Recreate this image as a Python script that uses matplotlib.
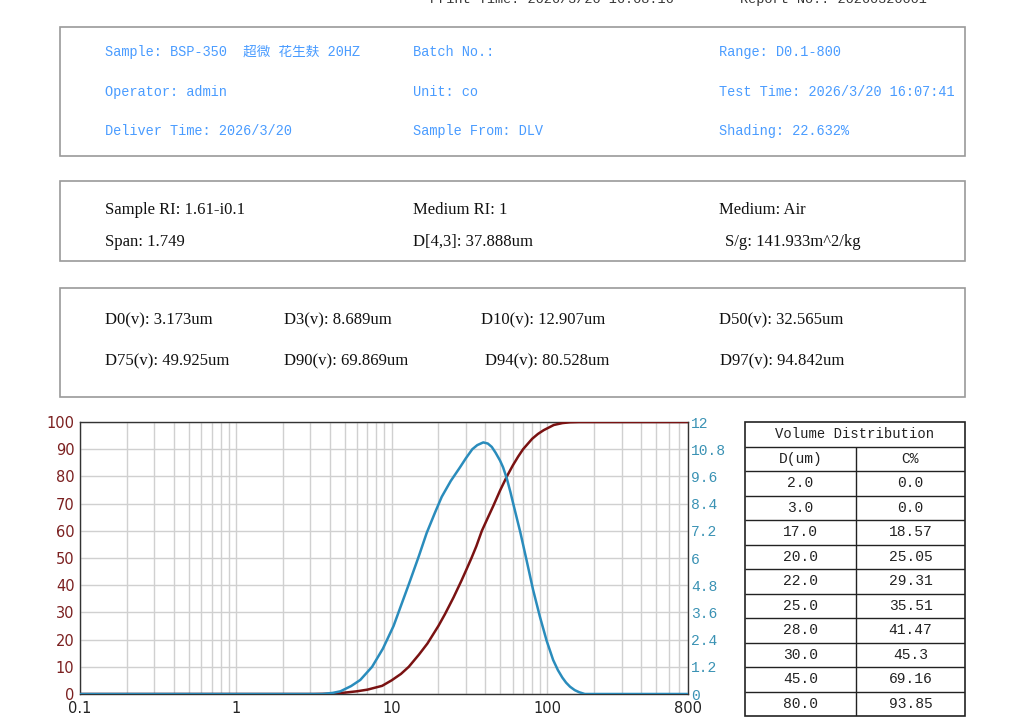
import numpy as np
import matplotlib.pyplot as plt
from matplotlib.patches import Rectangle

MONO = ['Liberation Mono', 'Noto Sans CJK SC', 'DejaVu Sans']
SERIF = ['Liberation Serif', 'DejaVu Serif']

# header lines (cut off at the top of the page)
print_time = 'Print Time: 2026/3/20 16:08:16'
report_no = 'Report No.: 20260320001'

# box 1: sample info (blue)
info_rows = [
    ['Sample: BSP-350  超微 花生麸 20HZ', 'Batch No.:', 'Range: D0.1-800'],
    ['Operator: admin', 'Unit: co', 'Test Time: 2026/3/20 16:07:41'],
    ['Deliver Time: 2026/3/20', 'Sample From: DLV', 'Shading: 22.632%'],
]
# box 2: optical parameters
ri_rows = [
    ['Sample RI: 1.61-i0.1', 'Medium RI: 1', 'Medium: Air'],
    ['Span: 1.749', 'D[4,3]: 37.888um', 'S/g: 141.933m^2/kg'],
]
# box 3: characteristic diameters
d_rows = [
    ['D0(v): 3.173um', 'D3(v): 8.689um', 'D10(v): 12.907um', 'D50(v): 32.565um'],
    ['D75(v): 49.925um', 'D90(v): 69.869um', 'D94(v): 80.528um', 'D97(v): 94.842um'],
]

# cumulative curve (left axis, %)
cum_size = [0.1, 3.17, 4.0, 5.0, 6.0, 7.0, 8.7, 10.0, 11.5, 12.9, 15.0, 17.0, 20.0, 22.0,
            25.0, 28.0, 30.0, 32.6, 35.0, 38.0, 41.5, 45.0, 49.9, 55.0, 60.0, 65.0,
            69.9, 80.0, 87.0, 94.8, 110.0, 125.0, 140.0, 160.0, 800.0]
cum_pct = [0.0, 0.0, 0.1, 0.5, 1.0, 1.6, 3.0, 5.0, 7.4, 10.0, 14.5, 18.57, 25.05, 29.31,
           35.51, 41.47, 45.3, 50.0, 54.3, 60.0, 64.8, 69.16, 75.0, 80.0, 84.0, 87.3,
           90.0, 93.85, 95.6, 97.0, 98.9, 99.6, 99.9, 100.0, 100.0]

# frequency curve (right axis)
dist_size = [0.1, 3.6, 4.2, 4.7, 5.5, 6.3, 7.5, 8.8, 10.3, 11.5, 13.0, 15.0, 16.8, 19.0,
             21.0, 24.0, 27.5, 30.0, 33.0, 35.5, 38.8, 41.5, 44.0, 46.5, 49.7, 52.0,
             55.0, 58.0, 60.4, 64.0, 67.0, 73.6, 81.0, 89.7, 99.0, 109.0, 117.0,
             125.0, 132.0, 140.0, 150.0, 160.0, 174.0, 800.0]
dist_val = [0.0, 0.0, 0.05, 0.12, 0.35, 0.62, 1.2, 2.0, 3.0, 3.9, 4.9, 6.1, 7.1, 8.0,
            8.7, 9.4, 10.0, 10.4, 10.8, 10.98, 11.1, 11.05, 10.9, 10.65, 10.3, 10.0,
            9.5, 8.9, 8.4, 7.7, 7.15, 5.9, 4.6, 3.4, 2.35, 1.5, 1.05,
            0.72, 0.5, 0.32, 0.17, 0.08, 0.0, 0.0]

x_major = [0.1, 1, 10, 100, 800]
x_major_labels = ['0.1', '1', '10', '100', '800']
left_ticks = list(range(0, 101, 10))
right_ticks = [0, 1.2, 2.4, 3.6, 4.8, 6, 7.2, 8.4, 9.6, 10.8, 12]
right_labels = ['0', '1.2', '2.4', '3.6', '4.8', '6', '7.2', '8.4', '9.6', '10.8', '12']

# table
table_title = 'Volume Distribution'
table_head = ['D(um)', 'C%']
table_d = ['2.0', '3.0', '17.0', '20.0', '22.0', '25.0', '28.0', '30.0', '45.0', '80.0']
table_c = ['0.0', '0.0', '18.57', '25.05', '29.31', '35.51', '41.47', '45.3', '69.16', '93.85']

BLUE_TXT = '#4a9cff'
RED = '#7a1212'
BLUE = '#2a8cbc'

fig = plt.figure(figsize=(10.24, 7.19), dpi=100)

# page layer in pixel coords
bg = fig.add_axes([0, 0, 1, 1])
bg.set_xlim(0, 1024)
bg.set_ylim(719, 0)
bg.axis('off')

bg.text(430, 3, print_time, family=MONO, fontsize=9.7, color='#333333', va='baseline')
bg.text(740, 3, report_no, family=MONO, fontsize=9.7, color='#333333', va='baseline')

for y0, y1 in [(27, 156), (181, 261), (288, 397)]:
    bg.add_patch(Rectangle((60, y0), 905, y1 - y0, fill=False, ec='#9a9a9a', lw=1.2))

for row, y in zip(info_rows, [52, 92, 131]):
    for s, x in zip(row, [105, 413, 719]):
        bg.text(x, y, s, family=MONO, fontsize=9.8, color=BLUE_TXT, va='center')

for row, y in zip(ri_rows, [210, 242]):
    for s, x in zip(row, [105, 413, 719]):
        if s.startswith('S/g'):
            x = 725
        bg.text(x, y, s, family=SERIF, fontsize=12, color='#111111', va='center')

for row, y, xs in zip(d_rows, [320, 361], [[105, 284, 481, 719], [105, 284, 485, 720]]):
    for s, x in zip(row, xs):
        bg.text(x, y, s, family=SERIF, fontsize=12, color='#111111', va='center')

# chart
ax = fig.add_axes([80 / 1024, 1 - 694 / 719, 608 / 1024, 272 / 719])
ax.set_xscale('log')
ax.set_xlim(0.1, 800)
ax.set_ylim(0, 100)
grid_x = [m * 10.0 ** e for e in range(-1, 3) for m in range(1, 10) if m * 10.0 ** e <= 800]
ax.set_xticks(grid_x, minor=True)
ax.set_xticks(x_major)
ax.set_xticklabels(x_major_labels)
ax.set_yticks(left_ticks)
ax.grid(True, which='both', color='#d0d0d0', lw=1)
ax.set_axisbelow(True)
ax.tick_params(which='both', length=0)
ax.tick_params(axis='x', pad=5, labelsize=10.5, labelcolor='#222222')
ax.tick_params(axis='y', pad=4, labelsize=10.5, labelcolor='#7b2020')
for s in ax.spines.values():
    s.set_color('#333333')
    s.set_linewidth(1)

ax2 = ax.twinx()
ax2.set_ylim(0, 12)
ax2.set_yticks(right_ticks)
ax2.set_yticklabels(right_labels, family=MONO)
ax2.tick_params(length=0, pad=2, labelsize=10.5, labelcolor='#3a92b4')
for s in ax2.spines.values():
    s.set_visible(False)

ax2.plot(dist_size, dist_val, color=BLUE, lw=1.8)
ax.plot(cum_size, cum_pct, color=RED, lw=1.8, zorder=3)

# volume distribution table
tax = fig.add_axes([745 / 1024, 1 - 716 / 719, 220 / 1024, 294 / 719])
tax.set_xlim(0, 1)
tax.set_ylim(12, 0)
tax.axis('off')
split = (856 - 745) / 220
tax.add_patch(Rectangle((0, 0), 1, 12, fill=False, ec='#222222', lw=1.2, clip_on=False))
tax.hlines(range(1, 12), 0, 1, color='#222222', lw=1)
tax.vlines(split, 1, 12, color='#222222', lw=1)
tax.text(0.5, 0.5, table_title, family=MONO, fontsize=10, ha='center', va='center', color='#222222')
rows = [table_head] + [[d, c] for d, c in zip(table_d, table_c)]
for i, (d, c) in enumerate(rows):
    y = i + 1.5
    tax.text(split / 2, y, d, family=MONO, fontsize=10.5, ha='center', va='center', color='#222222')
    tax.text((1 + split) / 2, y, c, family=MONO, fontsize=10.5, ha='center', va='center', color='#222222')

fig.savefig('out.png', dpi=100)
